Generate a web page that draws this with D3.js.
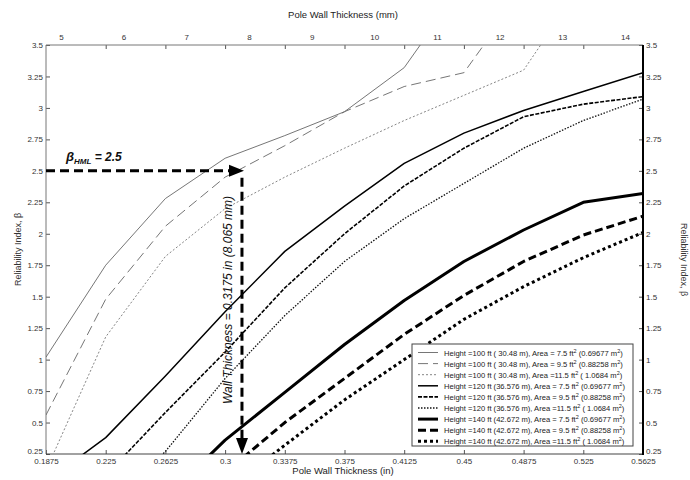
<!DOCTYPE html>
<html><head><meta charset="utf-8">
<script src="https://cdn.jsdelivr.net/npm/d3@7"></script>
<style>
body{margin:0;background:#fff;}
svg{font-family:"Liberation Sans",Arial,sans-serif;}
text{white-space:pre;}
</style>
</head><body><svg id="c" width="690" height="480"></svg>
<script>
// ---- data ----
const thicknessIn = [0.1875,0.225,0.2625,0.3,0.3375,0.375,0.4125,0.45,0.4875,0.525,0.5625];
const xTicksIn = [0.1875,0.225,0.2625,0.3,0.3375,0.375,0.4125,0.45,0.4875,0.525,0.5625];
const xTickLabels = ["0.1875","0.225","0.2625","0.3","0.3375","0.375","0.4125","0.45","0.4875","0.525","0.5625"];
const mmTicks = [5,6,7,8,9,10,11,12,13,14];
const yTicks = [0.25,0.5,0.75,1,1.25,1.5,1.75,2,2.25,2.5,2.75,3,3.25,3.5];
const yTickLabels = ["0.25","0.5","0.75","1","1.25","1.5","1.75","2","2.25","2.5","2.75","3","3.25","3.5"];

const h100a75  = [1.02,1.75,2.28,2.60,2.78,2.97,3.32,3.99,null,null,null];
const h100a95  = [0.56,1.48,2.06,2.45,2.70,2.97,3.17,3.28,3.94,null,null];
const h100a115 = [0.12,1.18,1.82,2.20,2.45,2.68,2.90,3.10,3.30,4.00,null];
const h120a75  = [0.03,0.38,0.87,1.38,1.86,2.22,2.56,2.80,2.98,3.13,3.28];
const h120a95  = [null,0.08,0.58,1.06,1.57,2.00,2.38,2.68,2.93,3.03,3.09];
const h120a115 = [null,-0.2,0.27,0.85,1.35,1.78,2.12,2.40,2.68,2.90,3.07];
const h140a75  = [null,null,-0.10,0.36,0.74,1.12,1.47,1.78,2.03,2.25,2.32];
const h140a95  = [null,null,null,0.10,0.50,0.85,1.20,1.51,1.78,1.99,2.14];
const h140a115 = [null,null,null,-0.05,0.32,0.68,1.00,1.32,1.58,1.81,2.01];

const heightLabels = ["Height =100 ft ( 30.48 m)","Height =120 ft (36.576 m)","Height =140 ft (42.672 m)"];
const areaLabels = [["Area = 7.5 ft","(0.69677 m"],["Area = 9.5 ft","(0.88258 m"],["Area =11.5 ft","( 1.0684 m"]];

const betaHML = 2.5;
const wallArrowIn = 0.3106;

// ---- styles per series ----
const seriesValues = [h100a75,h100a95,h100a115,h120a75,h120a95,h120a115,h140a75,h140a95,h140a115];
const styles = [
  {w:0.9,c:"#666",d:null},
  {w:0.9,c:"#666",d:"10,5"},
  {w:0.9,c:"#777",d:"2,2"},
  {w:1.5,c:"#000",d:null},
  {w:1.6,c:"#000",d:"4,1.5"},
  {w:1.3,c:"#111",d:"1.5,1.5"},
  {w:3,c:"#000",d:null},
  {w:3,c:"#000",d:"8,4"},
  {w:3,c:"#000",d:"3,3"}
];

const svg = d3.select("#c");
const L=46,R=643,T=45,B=454;
const x = d3.scaleLinear().domain([0.1875,0.5625]).range([L,R]);
const xmm = d3.scaleLinear().domain([0.1875*25.4,0.5625*25.4]).range([L,R]);
const y = d3.scaleLinear().domain([0.25,3.5]).range([B,T]);

svg.append("rect").attr("x",0).attr("y",0).attr("width",690).attr("height",480).attr("fill","#fff");
svg.append("defs").append("clipPath").attr("id","clip").append("rect")
  .attr("x",L).attr("y",T).attr("width",R-L).attr("height",B-T);

// axes
const tickCol="#333";
function styleAxis(g){
  g.select(".domain").remove();
  g.selectAll("line").attr("stroke","#555");
  g.selectAll("text").attr("fill",tickCol).attr("font-size","8px").attr("font-family","Liberation Sans, Arial, sans-serif");
}
const fmtX = (d,i)=>xTickLabels[i];
const fmtY = (d,i)=>yTickLabels[i];
svg.append("g").attr("transform",`translate(0,${B})`)
  .call(d3.axisBottom(x).tickValues(xTicksIn).tickFormat(fmtX).tickSize(-4).tickPadding(4)).call(styleAxis);
svg.append("g").attr("transform",`translate(0,${T})`)
  .call(d3.axisTop(x).tickValues(xTicksIn.slice(1,-1)).tickFormat("").tickSize(-4)).call(styleAxis);
svg.append("g").attr("transform",`translate(0,${T})`)
  .call(d3.axisTop(xmm).tickValues(mmTicks).tickFormat(d3.format("d")).tickSize(0).tickPadding(5)).call(styleAxis);
const ly = svg.append("g").attr("transform",`translate(${L},0)`)
  .call(d3.axisLeft(y).tickValues(yTicks).tickFormat(fmtY).tickSize(-4).tickPadding(3)).call(styleAxis);
const ry = svg.append("g").attr("transform",`translate(${R},0)`)
  .call(d3.axisRight(y).tickValues(yTicks).tickFormat(fmtY).tickSize(-4).tickPadding(3)).call(styleAxis);
// lift the bottom-most y labels slightly so they don't sit on the x labels
[ly,ry].forEach(g=>g.selectAll(".tick text").filter(d=>d===0.25).attr("dy","-0.05em"));

// frame
svg.append("line").attr("x1",L).attr("x2",R).attr("y1",T).attr("y2",T).attr("stroke","#777").attr("stroke-width",1);
svg.append("line").attr("x1",L).attr("x2",L).attr("y1",T).attr("y2",B).attr("stroke","#777").attr("stroke-width",1);
svg.append("line").attr("x1",L).attr("x2",R).attr("y1",B).attr("y2",B).attr("stroke","#444").attr("stroke-width",1.2);
svg.append("line").attr("x1",R).attr("x2",R).attr("y1",T).attr("y2",B+1).attr("stroke","#000").attr("stroke-width",2);

// axis labels
svg.append("text").attr("x",343).attr("y",18).attr("text-anchor","middle").attr("font-size","9.5px").attr("fill","#222").text("Pole Wall Thickness (mm)");
svg.append("text").attr("x",343).attr("y",474).attr("text-anchor","middle").attr("font-size","9.5px").attr("fill","#222").text("Pole Wall Thickness (in)");
svg.append("text").attr("transform",`translate(21,${(T+B)/2}) rotate(-90)`).attr("text-anchor","middle").attr("font-size","9px").attr("fill","#333").text("Reliability Index, β");
svg.append("text").attr("transform",`translate(681,${(T+B)/2+10}) rotate(90)`).attr("text-anchor","middle").attr("font-size","9px").attr("fill","#333").text("Reliability Index, β");

// series lines
const line = d3.line().defined(d=>d[1]!==null).x(d=>x(d[0])).y(d=>y(d[1]));
const plot = svg.append("g").attr("clip-path","url(#clip)");
seriesValues.forEach((vals,i)=>{
  const s=styles[i];
  plot.append("path").datum(thicknessIn.map((t,j)=>[t,vals[j]]))
    .attr("d",line).attr("fill","none").attr("stroke",s.c).attr("stroke-width",s.w)
    .attr("stroke-dasharray",s.d).attr("stroke-linejoin","round");
});

// annotation: beta HML
const ay = y(betaHML), ax = x(wallArrowIn);
svg.append("line").attr("x1",L).attr("x2",ax-12).attr("y1",ay).attr("y2",ay)
  .attr("stroke","#000").attr("stroke-width",3).attr("stroke-dasharray","9,5");
svg.append("path").attr("d",`M${ax+2},${ay} L${ax-13},${ay-6} L${ax-13},${ay+6} Z`).attr("fill","#000");
svg.append("line").attr("x1",ax).attr("x2",ax).attr("y1",ay+7).attr("y2",B-14)
  .attr("stroke","#000").attr("stroke-width",3).attr("stroke-dasharray","9,5");
svg.append("path").attr("d",`M${ax},${B} L${ax-6},${B-16} L${ax+6},${B-16} Z`).attr("fill","#000");

const bt = svg.append("text").attr("x",66).attr("y",ay-10).attr("font-weight","bold").attr("font-style","italic").attr("fill","#111");
bt.append("tspan").attr("font-size","13px").text("β");
bt.append("tspan").attr("font-size","8px").attr("dy",3).text("HML");
bt.append("tspan").attr("font-size","12px").attr("dy",-3).text(" = 2.5");

svg.append("text").attr("transform",`translate(${ax-10},300) rotate(-90)`)
  .attr("text-anchor","middle").attr("font-style","italic").attr("font-size","12px").attr("fill","#111")
  .text("Wall Thickness = 0.3175 in (8.065 mm)");

// legend
const lg = svg.append("g");
lg.append("rect").attr("x",412).attr("y",344).attr("width",221).attr("height",102).attr("fill","#fff").attr("stroke","#444").attr("stroke-width",1);
seriesValues.forEach((v,i)=>{
  const s=styles[i], yy=352.5+i*11.1;
  lg.append("line").attr("x1",418).attr("x2",438).attr("y1",yy).attr("y2",yy)
    .attr("stroke",s.c).attr("stroke-width",s.w).attr("stroke-dasharray",s.d);
  const t = lg.append("text").attr("x",444).attr("y",yy+3).attr("font-size","7.6px").attr("fill","#222");
  const a = areaLabels[i%3];
  t.append("tspan").text(heightLabels[Math.floor(i/3)]+", "+a[0]);
  t.append("tspan").attr("font-size","5.5px").attr("dy",-3).text("2");
  t.append("tspan").attr("dy",3).text(" "+a[1]);
  t.append("tspan").attr("font-size","5.5px").attr("dy",-3).text("2");
  t.append("tspan").attr("dy",3).text(")");
});
</script></body></html>
